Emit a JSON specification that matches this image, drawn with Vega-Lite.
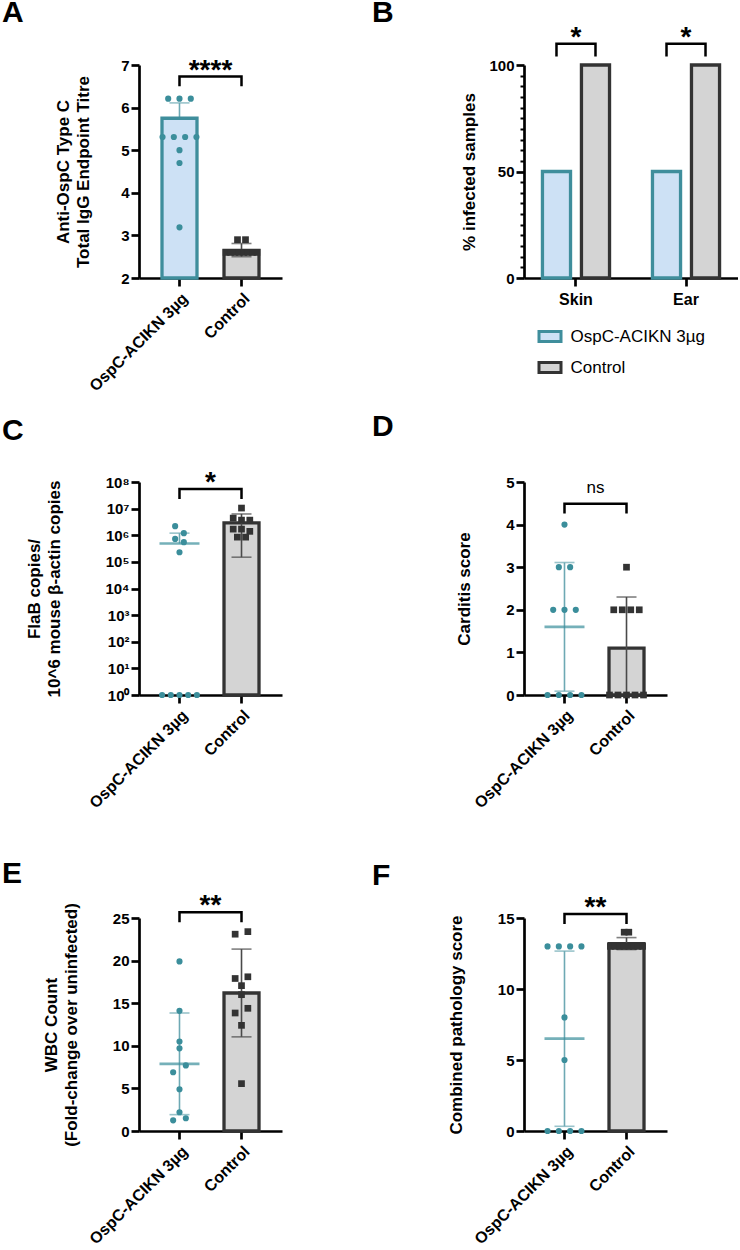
{
  "$schema": "https://vega.github.io/schema/vega-lite/v6.json",
  "background": "white",
  "padding": {"left": 2, "top": -3, "right": 0, "bottom": 0},
  "config": {
    "font": "Liberation Sans",
    "view": {"stroke": null},
    "axis": {
      "domainColor": "#000000", "domainWidth": 2.7, "tickColor": "#000000", "tickWidth": 2.7, "tickSize": 8,
      "labelFont": "Liberation Sans", "labelFontWeight": "bold", "labelFontSize": 15, "labelColor": "#000000", "labelPadding": 2,
      "titleFont": "Liberation Sans", "titleFontWeight": "bold", "titleFontSize": 17, "titleColor": "#000000", "titleLineHeight": 20,
      "grid": false
    },
    "axisX": {"labelFontSize": 16, "labelPadding": 4},
    "title": {"font": "Liberation Sans", "fontSize": 30, "fontWeight": "bold", "color": "#000000", "anchor": "start", "frame": "group", "baseline": "alphabetic"}
  },
  "datasets": {
    "aPts": [
      {"g": "OspC-ACIKN 3µg", "v": 6.21}, {"g": "OspC-ACIKN 3µg", "v": 6.21}, {"g": "OspC-ACIKN 3µg", "v": 6.21},
      {"g": "OspC-ACIKN 3µg", "v": 5.31}, {"g": "OspC-ACIKN 3µg", "v": 5.31}, {"g": "OspC-ACIKN 3µg", "v": 5.31}, {"g": "OspC-ACIKN 3µg", "v": 5.31},
      {"g": "OspC-ACIKN 3µg", "v": 5.0}, {"g": "OspC-ACIKN 3µg", "v": 4.7}, {"g": "OspC-ACIKN 3µg", "v": 3.19},
      {"g": "Control", "v": 2.9}, {"g": "Control", "v": 2.9},
      {"g": "Control", "v": 2.6}, {"g": "Control", "v": 2.6}, {"g": "Control", "v": 2.6}, {"g": "Control", "v": 2.6},
      {"g": "Control", "v": 2.6}, {"g": "Control", "v": 2.6}, {"g": "Control", "v": 2.6}, {"g": "Control", "v": 2.6}
    ],
    "aSum": [
      {"g": "OspC-ACIKN 3µg", "mean": 5.75, "lo": 5.39, "hi": 6.11},
      {"g": "Control", "mean": 2.65, "lo": 2.5, "hi": 2.81}
    ],
    "aBr": [
      {"g": "OspC-ACIKN 3µg", "y": 6.5, "o": 1}, {"g": "OspC-ACIKN 3µg", "y": 6.73, "o": 2},
      {"g": "Control", "y": 6.73, "o": 3}, {"g": "Control", "y": 6.5, "o": 4}
    ],
    "aSig": [{"g": "OspC-ACIKN 3µg", "y": 6.73, "t": "****"}],
    "bPct": [
      {"t": "Skin", "g": "OspC-ACIKN 3µg", "v": 50}, {"t": "Skin", "g": "Control", "v": 100},
      {"t": "Ear", "g": "OspC-ACIKN 3µg", "v": 50}, {"t": "Ear", "g": "Control", "v": 100}
    ],
    "bBr": [
      {"t": "Skin", "g": "OspC-ACIKN 3µg", "y": 104, "o": 1}, {"t": "Skin", "g": "OspC-ACIKN 3µg", "y": 110, "o": 2},
      {"t": "Skin", "g": "Control", "y": 110, "o": 3}, {"t": "Skin", "g": "Control", "y": 104, "o": 4},
      {"t": "Ear", "g": "OspC-ACIKN 3µg", "y": 104, "o": 1}, {"t": "Ear", "g": "OspC-ACIKN 3µg", "y": 110, "o": 2},
      {"t": "Ear", "g": "Control", "y": 110, "o": 3}, {"t": "Ear", "g": "Control", "y": 104, "o": 4}
    ],
    "bSig": [{"t": "Skin", "y": 110, "s": "*"}, {"t": "Ear", "y": 110, "s": "*"}],
    "cPts": [
      {"g": "OspC-ACIKN 3µg", "v": 1}, {"g": "OspC-ACIKN 3µg", "v": 1}, {"g": "OspC-ACIKN 3µg", "v": 1}, {"g": "OspC-ACIKN 3µg", "v": 1}, {"g": "OspC-ACIKN 3µg", "v": 1},
      {"g": "OspC-ACIKN 3µg", "v": 2200000}, {"g": "OspC-ACIKN 3µg", "v": 1200000}, {"g": "OspC-ACIKN 3µg", "v": 730000},
      {"g": "OspC-ACIKN 3µg", "v": 550000}, {"g": "OspC-ACIKN 3µg", "v": 230000},
      {"g": "Control", "v": 10500000}, {"g": "Control", "v": 4400000}, {"g": "Control", "v": 3700000}, {"g": "Control", "v": 3700000},
      {"g": "Control", "v": 1700000}, {"g": "Control", "v": 1700000}, {"g": "Control", "v": 1400000},
      {"g": "Control", "v": 850000}, {"g": "Control", "v": 850000}
    ],
    "cSum": [
      {"g": "OspC-ACIKN 3µg", "mean": 490000, "lo": null, "hi": 1200000},
      {"g": "Control", "mean": 2900000, "lo": 150000, "hi": 6300000}
    ],
    "cBr": [
      {"g": "OspC-ACIKN 3µg", "y": 23000000, "o": 1}, {"g": "OspC-ACIKN 3µg", "y": 55000000, "o": 2},
      {"g": "Control", "y": 55000000, "o": 3}, {"g": "Control", "y": 23000000, "o": 4}
    ],
    "cSig": [{"g": "OspC-ACIKN 3µg", "y": 55000000, "t": "*"}],
    "dPts": [
      {"g": "OspC-ACIKN 3µg", "v": 4}, {"g": "OspC-ACIKN 3µg", "v": 3}, {"g": "OspC-ACIKN 3µg", "v": 3},
      {"g": "OspC-ACIKN 3µg", "v": 2}, {"g": "OspC-ACIKN 3µg", "v": 2}, {"g": "OspC-ACIKN 3µg", "v": 2},
      {"g": "OspC-ACIKN 3µg", "v": 0}, {"g": "OspC-ACIKN 3µg", "v": 0}, {"g": "OspC-ACIKN 3µg", "v": 0}, {"g": "OspC-ACIKN 3µg", "v": 0},
      {"g": "Control", "v": 3}, {"g": "Control", "v": 2}, {"g": "Control", "v": 2}, {"g": "Control", "v": 2}, {"g": "Control", "v": 2},
      {"g": "Control", "v": 0}, {"g": "Control", "v": 0}, {"g": "Control", "v": 0}, {"g": "Control", "v": 0}, {"g": "Control", "v": 0}
    ],
    "dSum": [
      {"g": "OspC-ACIKN 3µg", "mean": 1.6, "lo": 0.09, "hi": 3.11},
      {"g": "Control", "mean": 1.1, "lo": -0.1, "hi": 2.3}
    ],
    "dBr": [
      {"g": "OspC-ACIKN 3µg", "y": 4.26, "o": 1}, {"g": "OspC-ACIKN 3µg", "y": 4.49, "o": 2},
      {"g": "Control", "y": 4.49, "o": 3}, {"g": "Control", "y": 4.26, "o": 4}
    ],
    "dSig": [{"g": "OspC-ACIKN 3µg", "y": 4.49, "t": "ns"}],
    "ePts": [
      {"g": "OspC-ACIKN 3µg", "v": 19.9}, {"g": "OspC-ACIKN 3µg", "v": 14.1}, {"g": "OspC-ACIKN 3µg", "v": 10.5},
      {"g": "OspC-ACIKN 3µg", "v": 9.7}, {"g": "OspC-ACIKN 3µg", "v": 7.7}, {"g": "OspC-ACIKN 3µg", "v": 6.9},
      {"g": "OspC-ACIKN 3µg", "v": 4.9}, {"g": "OspC-ACIKN 3µg", "v": 2.2}, {"g": "OspC-ACIKN 3µg", "v": 1.5}, {"g": "OspC-ACIKN 3µg", "v": 1.25},
      {"g": "Control", "v": 23.1}, {"g": "Control", "v": 23.4}, {"g": "Control", "v": 17.9}, {"g": "Control", "v": 18.1},
      {"g": "Control", "v": 17.06}, {"g": "Control", "v": 16.0}, {"g": "Control", "v": 13.85}, {"g": "Control", "v": 14.4},
      {"g": "Control", "v": 12.4}, {"g": "Control", "v": 5.56}
    ],
    "eSum": [
      {"g": "OspC-ACIKN 3µg", "mean": 7.87, "lo": 1.92, "hi": 13.85},
      {"g": "Control", "mean": 16.2, "lo": 11.05, "hi": 21.35}
    ],
    "eBr": [
      {"g": "OspC-ACIKN 3µg", "y": 24.5, "o": 1}, {"g": "OspC-ACIKN 3µg", "y": 25.67, "o": 2},
      {"g": "Control", "y": 25.67, "o": 3}, {"g": "Control", "y": 24.5, "o": 4}
    ],
    "eSig": [{"g": "OspC-ACIKN 3µg", "y": 25.67, "t": "**"}],
    "fPts": [
      {"g": "OspC-ACIKN 3µg", "v": 13}, {"g": "OspC-ACIKN 3µg", "v": 13}, {"g": "OspC-ACIKN 3µg", "v": 13}, {"g": "OspC-ACIKN 3µg", "v": 13},
      {"g": "OspC-ACIKN 3µg", "v": 8}, {"g": "OspC-ACIKN 3µg", "v": 5},
      {"g": "OspC-ACIKN 3µg", "v": 0}, {"g": "OspC-ACIKN 3µg", "v": 0}, {"g": "OspC-ACIKN 3µg", "v": 0}, {"g": "OspC-ACIKN 3µg", "v": 0},
      {"g": "Control", "v": 14}, {"g": "Control", "v": 14},
      {"g": "Control", "v": 13}, {"g": "Control", "v": 13}, {"g": "Control", "v": 13}, {"g": "Control", "v": 13},
      {"g": "Control", "v": 13}, {"g": "Control", "v": 13}, {"g": "Control", "v": 13}, {"g": "Control", "v": 13}
    ],
    "fSum": [
      {"g": "OspC-ACIKN 3µg", "mean": 6.5, "lo": 0.33, "hi": 12.67},
      {"g": "Control", "mean": 13.2, "lo": 12.78, "hi": 13.62}
    ],
    "fBr": [
      {"g": "OspC-ACIKN 3µg", "y": 14.58, "o": 1}, {"g": "OspC-ACIKN 3µg", "y": 15.28, "o": 2},
      {"g": "Control", "y": 15.28, "o": 3}, {"g": "Control", "y": 14.58, "o": 4}
    ],
    "fSig": [{"g": "OspC-ACIKN 3µg", "y": 15.28, "t": "**"}]
  },
  "vconcat": [
    {
      "hconcat": [
        {
          "width": 143, "height": 213,
          "title": {"text": "A", "dx": -137, "offset": 29},
          "encoding": {"x": {"field": "g", "type": "nominal", "sort": null, "scale": {"domain": ["OspC-ACIKN 3µg", "Control"], "paddingInner": 0.4, "paddingOuter": 0.353}, "axis": {"title": null, "labelAngle": -45}}},
          "layer": [
            {"data": {"name": "aSum"}, "transform": [{"filter": "datum.g != 'Control'"}],
             "mark": {"type": "rule", "color": "#6ea9b4", "strokeWidth": 1.6},
             "encoding": {"y": {"field": "mean", "type": "quantitative", "scale": {"domain": [2, 7], "nice": false, "zero": false}, "axis": {"values": [2, 3, 4, 5, 6, 7], "title": ["Anti-OspC Type C", "Total IgG Endpoint Titre"], "titlePadding": 28}}, "y2": {"field": "hi"}}},
            {"data": {"name": "aSum"},
             "mark": {"type": "bar", "width": 35, "strokeWidth": 3.3},
             "encoding": {"y": {"field": "mean", "type": "quantitative", "scale": {"domain": [2, 7], "nice": false, "zero": false}, "axis": null}, "y2": {"datum": 2},
               "fill": {"condition": {"test": "datum.g == 'Control'", "value": "#d4d4d4"}, "value": "#cde1f5"},
               "stroke": {"condition": {"test": "datum.g == 'Control'", "value": "#333333"}, "value": "#3f8e9c"}}},
            {"data": {"name": "aSum"}, "transform": [{"filter": "datum.g == 'Control'"}],
             "mark": {"type": "rule", "color": "#4a4a4a", "strokeWidth": 1.6},
             "encoding": {"y": {"field": "lo", "type": "quantitative", "scale": {"domain": [2, 7], "nice": false, "zero": false}, "axis": null}, "y2": {"field": "hi"}}},
            {"data": {"name": "aSum"},
             "mark": {"type": "tick", "size": 20, "thickness": 1.6},
             "encoding": {"y": {"field": "hi", "type": "quantitative", "scale": {"domain": [2, 7], "nice": false, "zero": false}, "axis": null},
               "color": {"condition": {"test": "datum.g == 'Control'", "value": "#4a4a4a"}, "value": "#6ea9b4"}}},
            {"data": {"name": "aSum"}, "transform": [{"filter": "datum.g == 'Control'"}],
             "mark": {"type": "tick", "size": 20, "thickness": 1.6, "color": "#4a4a4a"},
             "encoding": {"y": {"field": "lo", "type": "quantitative", "scale": {"domain": [2, 7], "nice": false, "zero": false}, "axis": null}}},
            {"data": {"name": "aPts"},
             "transform": [
               {"calculate": "round(datum.v * 5)", "as": "b"},
               {"window": [{"op": "row_number", "as": "k"}], "groupby": ["g", "b"], "sort": [{"field": "v"}]},
               {"joinaggregate": [{"op": "count", "as": "n"}], "groupby": ["g", "b"]},
               {"calculate": "(datum.k - (datum.n + 1) / 2) * (datum.g == 'Control' ? (datum.n > 4 ? 4.4 : 8) : 11.3)", "as": "dx"}
             ],
             "mark": {"type": "point", "filled": true, "opacity": 1},
             "encoding": {"y": {"field": "v", "type": "quantitative", "scale": {"domain": [2, 7], "nice": false, "zero": false}, "axis": null},
               "xOffset": {"field": "dx", "type": "quantitative", "scale": {"domain": [-40, 40], "range": [-21.4, 58.6]}},
               "shape": {"condition": {"test": "datum.g == 'Control'", "value": "square"}, "value": "circle"},
               "size": {"condition": {"test": "datum.g == 'Control'", "value": 45}, "value": 38},
               "color": {"condition": {"test": "datum.g == 'Control'", "value": "#333333"}, "value": "#3b8e9b"}}},
            {"data": {"name": "aBr"},
             "mark": {"type": "line", "color": "#000000", "strokeWidth": 2.5},
             "encoding": {"y": {"field": "y", "type": "quantitative", "scale": {"domain": [2, 7], "nice": false, "zero": false}, "axis": null}, "order": {"field": "o"}}},
            {"data": {"name": "aSig"},
             "mark": {"type": "text", "fontSize": 28, "fontWeight": "bold", "align": "center", "baseline": "alphabetic", "dx": 31, "dy": 2, "color": "#000000"},
             "encoding": {"y": {"field": "y", "type": "quantitative", "scale": {"domain": [2, 7], "nice": false, "zero": false}, "axis": null}, "text": {"field": "t"}}}
          ],
          "resolve": {"axis": {"y": "independent"}}
        },
        {
          "width": 214, "height": 213,
          "title": {"text": "B", "dx": -152, "offset": -4},
          "encoding": {"x": {"field": "t", "type": "nominal", "sort": null, "scale": {"domain": ["Skin", "Ear"], "paddingInner": 0.291, "paddingOuter": 0.118}, "axis": {"title": null, "labelAngle": 0, "labelAlign": "center", "labelBaseline": "top", "labelPadding": 5}}},
          "layer": [
            {"data": {"name": "bPct"},
             "mark": {"type": "bar", "strokeWidth": 3.3},
             "encoding": {
               "xOffset": {"field": "g", "type": "nominal", "sort": null, "scale": {"domain": ["OspC-ACIKN 3µg", "Control"], "paddingInner": 0.28, "paddingOuter": 0.14}},
               "y": {"field": "v", "type": "quantitative", "scale": {"domain": [0, 100], "nice": false}, "axis": {"orient": "left", "values": [0, 50, 100], "title": "% infected samples", "titlePadding": 10}},
               "fill": {"field": "g", "type": "nominal", "sort": null, "scale": {"domain": ["OspC-ACIKN 3µg", "Control"], "range": ["#cde1f5", "#d4d4d4"]},
                 "legend": {"title": null, "orient": "none", "legendX": 13.5, "legendY": 259, "direction": "vertical", "symbolType": "M-1,-0.45L1,-0.45L1,0.45L-1,0.45Z", "symbolSize": 484, "symbolStrokeWidth": 3, "labelFont": "Liberation Sans", "labelFontSize": 17, "labelFontWeight": "normal", "labelColor": "#000000", "labelOffset": 8, "rowPadding": 7, "padding": 0}},
               "stroke": {"field": "g", "type": "nominal", "sort": null, "scale": {"domain": ["OspC-ACIKN 3µg", "Control"], "range": ["#3f8e9c", "#333333"]},
                 "legend": {"title": null, "orient": "none", "legendX": 13.5, "legendY": 259, "direction": "vertical", "symbolType": "M-1,-0.45L1,-0.45L1,0.45L-1,0.45Z", "symbolSize": 484, "symbolStrokeWidth": 3, "labelFont": "Liberation Sans", "labelFontSize": 17, "labelFontWeight": "normal", "labelColor": "#000000", "labelOffset": 8, "rowPadding": 7, "padding": 0}}
             }},
            {"data": {"name": "bBr"},
             "mark": {"type": "line", "color": "#000000", "strokeWidth": 2.5},
             "encoding": {
               "xOffset": {"field": "g", "type": "nominal", "sort": null, "scale": {"domain": ["OspC-ACIKN 3µg", "Control"], "paddingInner": 0.28, "paddingOuter": 0.14}},
               "y": {"field": "y", "type": "quantitative", "scale": {"domain": [0, 100], "nice": false},
                 "axis": {"orient": "left", "values": [5, 10, 15, 20, 25, 30, 35, 40, 45, 55, 60, 65, 70, 75, 80, 85, 90, 95], "labels": false, "domain": false, "tickSize": 4, "tickWidth": 2, "title": null}},
               "order": {"field": "o"}, "detail": {"field": "t"}}},
            {"data": {"name": "bSig"},
             "mark": {"type": "text", "fontSize": 28, "fontWeight": "bold", "align": "center", "baseline": "alphabetic", "dy": 2, "color": "#000000"},
             "encoding": {"y": {"field": "y", "type": "quantitative", "scale": {"domain": [0, 100], "nice": false}, "axis": null}, "text": {"field": "s"}}}
          ],
          "resolve": {"axis": {"y": "independent"}}
        }
      ],
      "spacing": 242, "bounds": "flush",
      "resolve": {"scale": {"fill": "independent", "stroke": "independent"}, "legend": {"fill": "independent", "stroke": "independent"}}
    },
    {
      "vconcat": [
        {
          "hconcat": [
            {
              "width": 143, "height": 213,
              "title": {"text": "C", "dx": -137, "offset": 23},
              "encoding": {"x": {"field": "g", "type": "nominal", "sort": null, "scale": {"domain": ["OspC-ACIKN 3µg", "Control"], "paddingInner": 0.4, "paddingOuter": 0.353}, "axis": {"title": null, "labelAngle": -45}}},
              "layer": [
                {"data": {"name": "cSum"}, "transform": [{"filter": "datum.g == 'Control'"}],
                 "mark": {"type": "bar", "width": 35, "fill": "#d4d4d4", "stroke": "#333333", "strokeWidth": 3.3},
                 "encoding": {"y": {"field": "mean", "type": "quantitative", "scale": {"type": "log", "domain": [1, 100000000], "nice": false},
                   "axis": {"values": [1, 10, 100, 1000, 10000, 100000, 1000000, 10000000, 100000000], "labelExpr": "'10' + ['⁰','¹','²','³','⁴','⁵','⁶','⁷','⁸'][round(log(datum.value) / LN10)]", "title": ["FlaB copies/", "10^6 mouse β-actin copies"], "titlePadding": 41}},
                   "y2": {"datum": 1}}},
                {"data": {"name": "cSum"}, "transform": [{"filter": "isValid(datum.lo)"}],
                 "mark": {"type": "rule", "color": "#4a4a4a", "strokeWidth": 1.6},
                 "encoding": {"y": {"field": "lo", "type": "quantitative", "scale": {"type": "log", "domain": [1, 100000000], "nice": false}, "axis": null}, "y2": {"field": "hi"}}},
                {"data": {"name": "cSum"}, "transform": [{"filter": "!isValid(datum.lo)"}],
                 "mark": {"type": "rule", "color": "#6ea9b4", "strokeWidth": 1.6},
                 "encoding": {"y": {"field": "mean", "type": "quantitative", "scale": {"type": "log", "domain": [1, 100000000], "nice": false}, "axis": null}, "y2": {"field": "hi"}}},
                {"data": {"name": "cSum"},
                 "mark": {"type": "tick", "size": 20, "thickness": 1.6},
                 "encoding": {"y": {"field": "hi", "type": "quantitative", "scale": {"type": "log", "domain": [1, 100000000], "nice": false}, "axis": null},
                   "color": {"condition": {"test": "datum.g == 'Control'", "value": "#4a4a4a"}, "value": "#6ea9b4"}}},
                {"data": {"name": "cSum"}, "transform": [{"filter": "isValid(datum.lo)"}],
                 "mark": {"type": "tick", "size": 20, "thickness": 1.6, "color": "#4a4a4a"},
                 "encoding": {"y": {"field": "lo", "type": "quantitative", "scale": {"type": "log", "domain": [1, 100000000], "nice": false}, "axis": null}}},
                {"data": {"name": "cSum"}, "transform": [{"filter": "datum.g != 'Control'"}],
                 "mark": {"type": "tick", "size": 40, "thickness": 2.7, "color": "#3b8e9b"},
                 "encoding": {"y": {"field": "mean", "type": "quantitative", "scale": {"type": "log", "domain": [1, 100000000], "nice": false}, "axis": null}}},
                {"data": {"name": "cPts"},
                 "transform": [
                   {"calculate": "floor(log(datum.v) / LN10 * 2)", "as": "b"},
                   {"window": [{"op": "row_number", "as": "k"}], "groupby": ["g", "b"], "sort": [{"field": "v", "order": "descending"}]},
                   {"joinaggregate": [{"op": "count", "as": "n"}], "groupby": ["g", "b"]},
                   {"calculate": "(datum.k - (datum.n + 1) / 2) * (datum.g == 'Control' ? 8.3 : 8.7)", "as": "dx"}
                 ],
                 "mark": {"type": "point", "filled": true, "opacity": 1},
                 "encoding": {"y": {"field": "v", "type": "quantitative", "scale": {"type": "log", "domain": [1, 100000000], "nice": false}, "axis": null},
                   "xOffset": {"field": "dx", "type": "quantitative", "scale": {"domain": [-40, 40], "range": [-21.4, 58.6]}},
                   "shape": {"condition": {"test": "datum.g == 'Control'", "value": "square"}, "value": "circle"},
                   "size": {"condition": {"test": "datum.g == 'Control'", "value": 45}, "value": 38},
                   "color": {"condition": {"test": "datum.g == 'Control'", "value": "#333333"}, "value": "#3b8e9b"}}},
                {"data": {"name": "cBr"},
                 "mark": {"type": "line", "color": "#000000", "strokeWidth": 2.5},
                 "encoding": {"y": {"field": "y", "type": "quantitative", "scale": {"type": "log", "domain": [1, 100000000], "nice": false}, "axis": null}, "order": {"field": "o"}}},
                {"data": {"name": "cSig"},
                 "mark": {"type": "text", "fontSize": 28, "fontWeight": "bold", "align": "center", "baseline": "alphabetic", "dx": 31, "dy": 2, "color": "#000000"},
                 "encoding": {"y": {"field": "y", "type": "quantitative", "scale": {"type": "log", "domain": [1, 100000000], "nice": false}, "axis": null}, "text": {"field": "t"}}}
              ],
              "resolve": {"axis": {"y": "independent"}}
            },
            {
              "width": 143, "height": 213,
              "title": {"text": "D", "dx": -152, "offset": 33},
              "encoding": {"x": {"field": "g", "type": "nominal", "sort": null, "scale": {"domain": ["OspC-ACIKN 3µg", "Control"], "paddingInner": 0.4, "paddingOuter": 0.353}, "axis": {"title": null, "labelAngle": -45}}},
              "layer": [
                {"data": {"name": "dSum"}, "transform": [{"filter": "datum.g == 'Control'"}],
                 "mark": {"type": "bar", "width": 35, "fill": "#d4d4d4", "stroke": "#333333", "strokeWidth": 3.3},
                 "encoding": {"y": {"field": "mean", "type": "quantitative", "scale": {"domain": [0, 5], "nice": false, "clamp": true}, "axis": {"values": [0, 1, 2, 3, 4, 5], "title": "Carditis score", "titlePadding": 32}}, "y2": {"datum": 0}}},
                {"data": {"name": "dSum"},
                 "mark": {"type": "rule", "strokeWidth": 1.6},
                 "encoding": {"y": {"field": "lo", "type": "quantitative", "scale": {"domain": [0, 5], "nice": false, "clamp": true}, "axis": null}, "y2": {"field": "hi"},
                   "color": {"condition": {"test": "datum.g == 'Control'", "value": "#4a4a4a"}, "value": "#6ea9b4"}}},
                {"data": {"name": "dSum"},
                 "mark": {"type": "tick", "size": 20, "thickness": 1.6},
                 "encoding": {"y": {"field": "hi", "type": "quantitative", "scale": {"domain": [0, 5], "nice": false, "clamp": true}, "axis": null},
                   "color": {"condition": {"test": "datum.g == 'Control'", "value": "#4a4a4a"}, "value": "#6ea9b4"}}},
                {"data": {"name": "dSum"}, "transform": [{"filter": "datum.lo > 0"}],
                 "mark": {"type": "tick", "size": 20, "thickness": 1.6, "color": "#6ea9b4"},
                 "encoding": {"y": {"field": "lo", "type": "quantitative", "scale": {"domain": [0, 5], "nice": false, "clamp": true}, "axis": null}}},
                {"data": {"name": "dSum"}, "transform": [{"filter": "datum.g != 'Control'"}],
                 "mark": {"type": "tick", "size": 40, "thickness": 2.7, "color": "#3b8e9b"},
                 "encoding": {"y": {"field": "mean", "type": "quantitative", "scale": {"domain": [0, 5], "nice": false, "clamp": true}, "axis": null}}},
                {"data": {"name": "dPts"},
                 "transform": [
                   {"calculate": "datum.v", "as": "b"},
                   {"window": [{"op": "row_number", "as": "k"}], "groupby": ["g", "b"], "sort": [{"field": "v"}]},
                   {"joinaggregate": [{"op": "count", "as": "n"}], "groupby": ["g", "b"]},
                   {"calculate": "(datum.k - (datum.n + 1) / 2) * (datum.g == 'Control' ? 8.5 : 11.3)", "as": "dx"}
                 ],
                 "mark": {"type": "point", "filled": true, "opacity": 1},
                 "encoding": {"y": {"field": "v", "type": "quantitative", "scale": {"domain": [0, 5], "nice": false, "clamp": true}, "axis": null},
                   "xOffset": {"field": "dx", "type": "quantitative", "scale": {"domain": [-40, 40], "range": [-21.4, 58.6]}},
                   "shape": {"condition": {"test": "datum.g == 'Control'", "value": "square"}, "value": "circle"},
                   "size": {"condition": {"test": "datum.g == 'Control'", "value": 45}, "value": 38},
                   "color": {"condition": {"test": "datum.g == 'Control'", "value": "#333333"}, "value": "#3b8e9b"}}},
                {"data": {"name": "dBr"},
                 "mark": {"type": "line", "color": "#000000", "strokeWidth": 2.5},
                 "encoding": {"y": {"field": "y", "type": "quantitative", "scale": {"domain": [0, 5], "nice": false, "clamp": true}, "axis": null}, "order": {"field": "o"}}},
                {"data": {"name": "dSig"},
                 "mark": {"type": "text", "fontSize": 17, "fontWeight": "normal", "align": "center", "baseline": "alphabetic", "dx": 31, "dy": -11, "color": "#000000"},
                 "encoding": {"y": {"field": "y", "type": "quantitative", "scale": {"domain": [0, 5], "nice": false, "clamp": true}, "axis": null}, "text": {"field": "t"}}}
              ],
              "resolve": {"axis": {"y": "independent"}}
            }
          ],
          "spacing": 242, "bounds": "flush"
        },
        {
          "hconcat": [
            {
              "width": 143, "height": 213,
              "title": {"text": "E", "dx": -137, "offset": 3},
              "encoding": {"x": {"field": "g", "type": "nominal", "sort": null, "scale": {"domain": ["OspC-ACIKN 3µg", "Control"], "paddingInner": 0.4, "paddingOuter": 0.353}, "axis": {"title": null, "labelAngle": -45}}},
              "layer": [
                {"data": {"name": "eSum"}, "transform": [{"filter": "datum.g == 'Control'"}],
                 "mark": {"type": "bar", "width": 35, "fill": "#d4d4d4", "stroke": "#333333", "strokeWidth": 3.3},
                 "encoding": {"y": {"field": "mean", "type": "quantitative", "scale": {"domain": [0, 25], "nice": false}, "axis": {"values": [0, 5, 10, 15, 20, 25], "title": ["WBC Count", "(Fold-change over uninfected)"], "titlePadding": 32}}, "y2": {"datum": 0}}},
                {"data": {"name": "eSum"},
                 "mark": {"type": "rule", "strokeWidth": 1.6},
                 "encoding": {"y": {"field": "lo", "type": "quantitative", "scale": {"domain": [0, 25], "nice": false}, "axis": null}, "y2": {"field": "hi"},
                   "color": {"condition": {"test": "datum.g == 'Control'", "value": "#4a4a4a"}, "value": "#6ea9b4"}}},
                {"data": {"name": "eSum"},
                 "mark": {"type": "tick", "size": 20, "thickness": 1.6},
                 "encoding": {"y": {"field": "hi", "type": "quantitative", "scale": {"domain": [0, 25], "nice": false}, "axis": null},
                   "color": {"condition": {"test": "datum.g == 'Control'", "value": "#4a4a4a"}, "value": "#6ea9b4"}}},
                {"data": {"name": "eSum"},
                 "mark": {"type": "tick", "size": 20, "thickness": 1.6},
                 "encoding": {"y": {"field": "lo", "type": "quantitative", "scale": {"domain": [0, 25], "nice": false}, "axis": null},
                   "color": {"condition": {"test": "datum.g == 'Control'", "value": "#4a4a4a"}, "value": "#6ea9b4"}}},
                {"data": {"name": "eSum"}, "transform": [{"filter": "datum.g != 'Control'"}],
                 "mark": {"type": "tick", "size": 40, "thickness": 2.7, "color": "#3b8e9b"},
                 "encoding": {"y": {"field": "mean", "type": "quantitative", "scale": {"domain": [0, 25], "nice": false}, "axis": null}}},
                {"data": {"name": "ePts"},
                 "transform": [
                   {"calculate": "datum.g == 'Control' ? round(datum.v) : floor(datum.v / 2)", "as": "b"},
                   {"window": [{"op": "row_number", "as": "k"}], "groupby": ["g", "b"], "sort": [{"field": "v"}]},
                   {"joinaggregate": [{"op": "count", "as": "n"}], "groupby": ["g", "b"]},
                   {"calculate": "(datum.k - (datum.n + 1) / 2) * 12.7", "as": "dx"}
                 ],
                 "mark": {"type": "point", "filled": true, "opacity": 1},
                 "encoding": {"y": {"field": "v", "type": "quantitative", "scale": {"domain": [0, 25], "nice": false}, "axis": null},
                   "xOffset": {"field": "dx", "type": "quantitative", "scale": {"domain": [-40, 40], "range": [-21.4, 58.6]}},
                   "shape": {"condition": {"test": "datum.g == 'Control'", "value": "square"}, "value": "circle"},
                   "size": {"condition": {"test": "datum.g == 'Control'", "value": 45}, "value": 38},
                   "color": {"condition": {"test": "datum.g == 'Control'", "value": "#333333"}, "value": "#3b8e9b"}}},
                {"data": {"name": "eBr"},
                 "mark": {"type": "line", "color": "#000000", "strokeWidth": 2.5},
                 "encoding": {"y": {"field": "y", "type": "quantitative", "scale": {"domain": [0, 25], "nice": false}, "axis": null}, "order": {"field": "o"}}},
                {"data": {"name": "eSig"},
                 "mark": {"type": "text", "fontSize": 28, "fontWeight": "bold", "align": "center", "baseline": "alphabetic", "dx": 31, "dy": 2, "color": "#000000"},
                 "encoding": {"y": {"field": "y", "type": "quantitative", "scale": {"domain": [0, 25], "nice": false}, "axis": null}, "text": {"field": "t"}}}
              ],
              "resolve": {"axis": {"y": "independent"}}
            },
            {
              "width": 143, "height": 213,
              "title": {"text": "F", "dx": -152, "offset": 3},
              "encoding": {"x": {"field": "g", "type": "nominal", "sort": null, "scale": {"domain": ["OspC-ACIKN 3µg", "Control"], "paddingInner": 0.4, "paddingOuter": 0.353}, "axis": {"title": null, "labelAngle": -45}}},
              "layer": [
                {"data": {"name": "fSum"}, "transform": [{"filter": "datum.g == 'Control'"}],
                 "mark": {"type": "bar", "width": 35, "fill": "#d4d4d4", "stroke": "#333333", "strokeWidth": 3.3},
                 "encoding": {"y": {"field": "mean", "type": "quantitative", "scale": {"domain": [0, 15], "nice": false}, "axis": {"values": [0, 5, 10, 15], "title": "Combined pathology score", "titlePadding": 32}}, "y2": {"datum": 0}}},
                {"data": {"name": "fSum"},
                 "mark": {"type": "rule", "strokeWidth": 1.6},
                 "encoding": {"y": {"field": "lo", "type": "quantitative", "scale": {"domain": [0, 15], "nice": false}, "axis": null}, "y2": {"field": "hi"},
                   "color": {"condition": {"test": "datum.g == 'Control'", "value": "#4a4a4a"}, "value": "#6ea9b4"}}},
                {"data": {"name": "fSum"},
                 "mark": {"type": "tick", "size": 20, "thickness": 1.6},
                 "encoding": {"y": {"field": "hi", "type": "quantitative", "scale": {"domain": [0, 15], "nice": false}, "axis": null},
                   "color": {"condition": {"test": "datum.g == 'Control'", "value": "#4a4a4a"}, "value": "#6ea9b4"}}},
                {"data": {"name": "fSum"},
                 "mark": {"type": "tick", "size": 20, "thickness": 1.6},
                 "encoding": {"y": {"field": "lo", "type": "quantitative", "scale": {"domain": [0, 15], "nice": false}, "axis": null},
                   "color": {"condition": {"test": "datum.g == 'Control'", "value": "#4a4a4a"}, "value": "#6ea9b4"}}},
                {"data": {"name": "fSum"}, "transform": [{"filter": "datum.g != 'Control'"}],
                 "mark": {"type": "tick", "size": 40, "thickness": 2.7, "color": "#3b8e9b"},
                 "encoding": {"y": {"field": "mean", "type": "quantitative", "scale": {"domain": [0, 15], "nice": false}, "axis": null}}},
                {"data": {"name": "fPts"},
                 "transform": [
                   {"calculate": "datum.v", "as": "b"},
                   {"window": [{"op": "row_number", "as": "k"}], "groupby": ["g", "b"], "sort": [{"field": "v"}]},
                   {"joinaggregate": [{"op": "count", "as": "n"}], "groupby": ["g", "b"]},
                   {"calculate": "(datum.k - (datum.n + 1) / 2) * (datum.g == 'Control' ? 4.6 : 11.3)", "as": "dx"}
                 ],
                 "mark": {"type": "point", "filled": true, "opacity": 1},
                 "encoding": {"y": {"field": "v", "type": "quantitative", "scale": {"domain": [0, 15], "nice": false}, "axis": null},
                   "xOffset": {"field": "dx", "type": "quantitative", "scale": {"domain": [-40, 40], "range": [-21.4, 58.6]}},
                   "shape": {"condition": {"test": "datum.g == 'Control'", "value": "square"}, "value": "circle"},
                   "size": {"condition": {"test": "datum.g == 'Control'", "value": 45}, "value": 38},
                   "color": {"condition": {"test": "datum.g == 'Control'", "value": "#333333"}, "value": "#3b8e9b"}}},
                {"data": {"name": "fBr"},
                 "mark": {"type": "line", "color": "#000000", "strokeWidth": 2.5},
                 "encoding": {"y": {"field": "y", "type": "quantitative", "scale": {"domain": [0, 15], "nice": false}, "axis": null}, "order": {"field": "o"}}},
                {"data": {"name": "fSig"},
                 "mark": {"type": "text", "fontSize": 28, "fontWeight": "bold", "align": "center", "baseline": "alphabetic", "dx": 31, "dy": 2, "color": "#000000"},
                 "encoding": {"y": {"field": "y", "type": "quantitative", "scale": {"domain": [0, 15], "nice": false}, "axis": null}, "text": {"field": "t"}}}
              ],
              "resolve": {"axis": {"y": "independent"}}
            }
          ],
          "spacing": 242, "bounds": "flush"
        }
      ],
      "spacing": 48, "bounds": "full"
    }
  ],
  "spacing": 18, "bounds": "full",
  "resolve": {"scale": {"fill": "independent", "stroke": "independent"}, "legend": {"fill": "independent", "stroke": "independent"}}
}
